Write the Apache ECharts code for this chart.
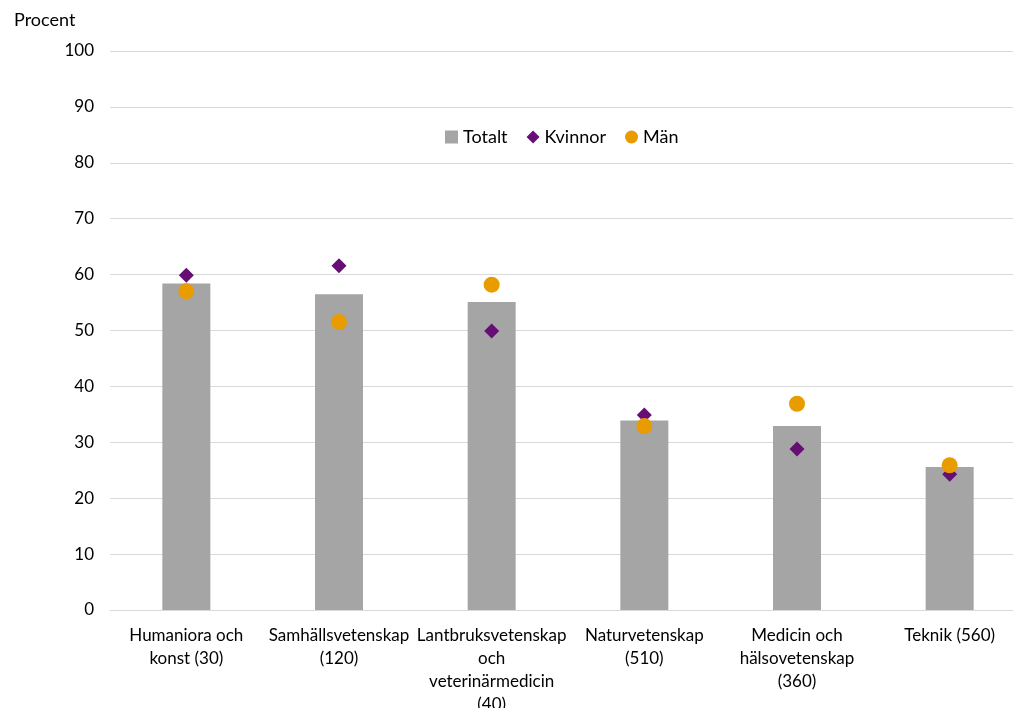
<!DOCTYPE html>
<html><head><meta charset="utf-8">
<script src="https://cdn.jsdelivr.net/npm/echarts@6/dist/echarts.min.js"></script>
<style>html,body{margin:0;padding:0;background:#fff}#c{width:1013px;height:708px}</style>
</head><body><div id="c"></div>
<script>
const categories = ["Humaniora och\nkonst (30)", "Samhällsvetenskap\n(120)", "Lantbruksvetenskap\noch\nveterinärmedicin\n(40)", "Naturvetenskap\n(510)", "Medicin och\nhälsovetenskap\n(360)", "Teknik (560)"];
const totalt = [58.4, 56.5, 55.1, 33.9, 32.9, 25.6];
const kvinnor = [59.9, 61.6, 49.9, 34.9, 28.8, 24.3];
const man = [57.0, 51.5, 58.2, 32.9, 36.9, 25.9];
const yTicks = [0, 10, 20, 30, 40, 50, 60, 70, 80, 90, 100];

const chart = echarts.init(document.getElementById('c'));
const font = 'Lato, "Open Sans", sans-serif';
chart.setOption({
  animation: false,
  textStyle: {fontFamily: font},
  title: {text: 'Procent', left: 9, top: 6, textStyle: {fontSize: 18, fontWeight: 'normal', color: '#000', fontFamily: font}},
  legend: {
    top: 123, left: 440, itemGap: 19, itemWidth: 13, itemHeight: 13,
    textStyle: {fontSize: 18, color: '#000', fontFamily: font},
    data: [{name: 'Totalt', icon: 'rect'}, {name: 'Kvinnor', icon: 'diamond'}, {name: 'Män', icon: 'circle'}]
  },
  grid: {left: 110, right: -13, top: 51, bottom: 98, containLabel: false, outerBoundsMode: 'none'},
  xAxis: {
    type: 'category', data: categories,
    axisLine: {lineStyle: {color: '#D9D9D9'}},
    axisTick: {show: false},
    axisLabel: {color: '#000', fontSize: 17, interval: 0, margin: 14, lineHeight: 23, fontFamily: font}
  },
  yAxis: {
    type: 'value', min: 0, max: 100, interval: 10,
    axisLine: {show: false}, axisTick: {show: false},
    axisLabel: {color: '#000', fontSize: 17, margin: 16, fontFamily: font,
      formatter: v => yTicks.includes(v) ? String(v) : ''},
    splitLine: {lineStyle: {color: '#D9D9D9', width: 1}}
  },
  series: [
    {name: 'Totalt', type: 'bar', data: totalt, barWidth: 48, itemStyle: {color: '#A5A5A5'}, z: 1},
    {name: 'Kvinnor', type: 'scatter', data: kvinnor, symbol: 'diamond', symbolSize: 15, itemStyle: {color: '#660E74', opacity: 1}, z: 3},
    {name: 'Män', type: 'scatter', data: man, symbol: 'circle', symbolSize: 16, itemStyle: {color: '#E89C00', opacity: 1}, z: 4}
  ]
});
</script></body></html>
